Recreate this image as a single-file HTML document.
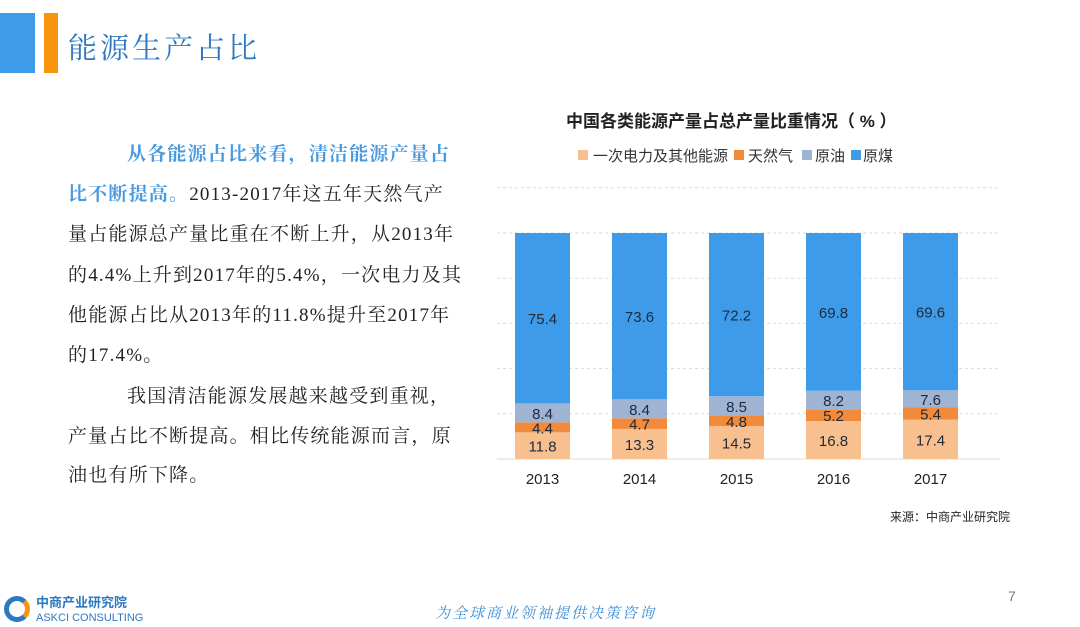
<!DOCTYPE html>
<html><head><meta charset="utf-8">
<style>
body{margin:0;width:1080px;height:627px;background:#fff;position:relative;overflow:hidden;font-family:"Liberation Sans","Noto Sans CJK SC",sans-serif}
.ln{position:absolute;left:68px;font-family:"Liberation Serif","Noto Serif CJK SC",serif;font-size:19px;letter-spacing:1.2px;color:#222;white-space:nowrap;line-height:24px}
.b{color:#4a9ae0;font-weight:bold}
</style></head><body>
<div style="position:absolute;left:0;top:13px;width:35px;height:60px;background:#3d9be9"></div>
<div style="position:absolute;left:44px;top:13px;width:14px;height:60px;background:#f7950e"></div>
<div style="position:absolute;left:68px;top:26px;font-size:29px;color:#2e78c0;letter-spacing:3px;font-family:'Liberation Serif','Noto Serif CJK SC',serif">能源生产占比</div>

<div>
<div class="ln" style="top:143px;left:127px"><span class="b">从各能源占比来看，清洁能源产量占</span></div>
<div class="ln" style="top:183px"><span class="b">比不断提高。</span>2013-2017年这五年天然气产</div>
<div class="ln" style="top:223px">量占能源总产量比重在不断上升，从2013年</div>
<div class="ln" style="top:264px">的4.4%上升到2017年的5.4%，一次电力及其</div>
<div class="ln" style="top:304px">他能源占比从2013年的11.8%提升至2017年</div>
<div class="ln" style="top:344px">的17.4%。</div>
<div class="ln" style="top:385px;left:127px">我国清洁能源发展越来越受到重视，</div>
<div class="ln" style="top:425px">产量占比不断提高。相比传统能源而言，原</div>
<div class="ln" style="top:464px">油也有所下降。</div>
</div>

<svg id="chart" width="1080" height="627" style="position:absolute;left:0;top:0" font-family="Liberation Sans, Noto Sans CJK SC, sans-serif">
<text x="566" y="127" font-size="17" font-weight="bold" fill="#222">中国各类能源产量占总产量比重情况（ % ）</text>
<g font-size="15" fill="#333">
<rect x="578" y="150" width="10" height="10" fill="#f8c08f"/><text x="593" y="161">一次电力及其他能源</text>
<rect x="734" y="150" width="10" height="10" fill="#f28a3c"/><text x="748" y="161">天然气</text>
<rect x="802" y="150" width="10" height="10" fill="#9fb4d3"/><text x="815" y="161">原油</text>
<rect x="851" y="150" width="10" height="10" fill="#3d9be9"/><text x="863" y="161">原煤</text>
</g>
<g id="grid"></g><g id="bars"></g>
<text x="890" y="521" font-size="12" fill="#222">来源：中商产业研究院</text>
</svg>

<div style="position:absolute;left:4px;top:596px;width:26px;height:26px;border-radius:50%;border:5px solid #2e78c0;box-sizing:border-box;border-right-color:#f7950e"></div>
<div style="position:absolute;left:36px;top:596px;font-size:13px;color:#2e78c0;font-weight:bold;line-height:14px">中商产业研究院<br><span style="font-size:11px;font-weight:normal">ASKCI CONSULTING</span></div>
<div style="position:absolute;left:435px;top:602px;font-size:15px;color:#3d8fd8;font-style:italic;letter-spacing:2px;font-family:'Liberation Serif','Noto Serif CJK SC',serif">为全球商业领袖提供决策咨询</div>
<div style="position:absolute;left:1008px;top:588px;font-size:14px;color:#777">7</div>

<script>
const years=["2013","2014","2015","2016","2017"];
const other=[11.8,13.3,14.5,16.8,17.4];
const gas=[4.4,4.7,4.8,5.2,5.4];
const oil=[8.4,8.4,8.5,8.2,7.6];
const coal=[75.4,73.6,72.2,69.8,69.6];
const ticks=[0,20,40,60,80,100,120];
const NS="http://www.w3.org/2000/svg";
const y0=459,pxPer=226/100,xL=497,xR=1000,bw=55;
const y=v=>y0-v*pxPer;
const x=i=>542.5+i*97;
function mk(tag,attrs,parent){const e=document.createElementNS(NS,tag);for(const k in attrs)e.setAttribute(k,attrs[k]);parent.appendChild(e);return e;}
const grid=document.getElementById('grid'),bars=document.getElementById('bars');
ticks.forEach(t=>{
  const l=mk('line',{x1:xL,x2:xR,y1:y(t),y2:y(t),stroke:'#d9d9d9','stroke-dasharray':t===0?'':'3,3'},grid);
  
  
});
const series=[[other,'#f8c08f','other'],[gas,'#f28a3c','gas'],[oil,'#9fb4d3','oil'],[coal,'#3d9be9','coal']];
years.forEach((yr,i)=>{
  let acc=0;
  series.forEach(([arr,col,nm])=>{
    const v=arr[i];
    const r=mk('rect',{x:x(i)-bw/2,y:y(acc+v),width:bw,height:v*pxPer,fill:col},bars);
    
    
    const t=mk('text',{x:x(i),y:y(acc+v/2)+6,'text-anchor':'middle','font-size':15,fill:'#1f2a3a'},bars);
    
    
    t.textContent=v;
    acc+=v;
  });
  const yl=mk('text',{x:x(i),y:484,'text-anchor':'middle','font-size':15,fill:'#222'},bars);
  
  
  yl.textContent=yr;
});
</script>
</body></html>
